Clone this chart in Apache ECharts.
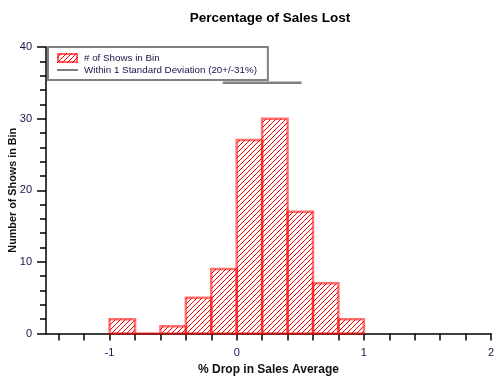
<!DOCTYPE html>
<html><head><meta charset="utf-8">
<script src="https://cdn.jsdelivr.net/npm/echarts@6/dist/echarts.min.js"></script>
<style>html,body{margin:0;padding:0;background:#fff}#c{width:500px;height:380px}</style>
</head><body><div id="c"></div>
<script>
// Data
var binStarts = [-1.0, -0.8, -0.6, -0.4, -0.2, 0.0, 0.2, 0.4, 0.6, 0.8];
var binEnds   = [-0.8, -0.6, -0.4, -0.2, 0.0, 0.2, 0.4, 0.6, 0.8, 1.0];
var binCounts = [2, 0, 1, 5, 9, 27, 30, 17, 7, 2];
var sdX = [-0.11, 0.51];
var sdY = [35, 35];
var xLabelValues = [-1, 0, 1, 2];
var xTickValues = [-1.4,-1.2,-1.0,-0.8,-0.6,-0.4,-0.2,0,0.2,0.4,0.6,0.8,1.0,1.2,1.4,1.6,1.8,2.0];
var seriesNames = ['# of Shows in Bin', 'Within 1 Standard Deviation (20+/-31%)'];

function makeHatch(w, h, border) {
  var c = document.createElement('canvas');
  c.width = w; c.height = h;
  var g = c.getContext('2d');
  g.strokeStyle = '#ff0000';
  g.lineWidth = 1;
  var s = 5;
  for (var k = -h; k < w + h; k += s) {
    g.beginPath(); g.moveTo(k, h); g.lineTo(k + h, 0); g.stroke();
  }
  if (border) {
    g.strokeStyle = 'rgba(255,0,0,0.6)';
    g.lineWidth = 2;
    g.strokeRect(1, 1, w - 2, h - 2);
  }
  return c;
}
function makeLineIcon(w, h) {
  var c = document.createElement('canvas');
  c.width = w; c.height = h;
  var g = c.getContext('2d');
  g.fillStyle = '#808080';
  g.fillRect(0, Math.round(h / 2) - 1, w, 2);
  return c;
}
var tile = makeHatch(5, 5, false);
var iconCanvas = makeHatch(21, 10, true);
var lineIcon = makeLineIcon(21, 10);

var barData = binStarts.map(function (s, i) { return [s, binEnds[i], binCounts[i]]; });
var sdData = sdX.map(function (x, i) { return [x, sdY[i]]; });

var font = 'Liberation Sans';
var navy = '#14144a';
var chart = echarts.init(document.getElementById('c'));
chart.setOption({
  animation: false,
  title: {
    text: 'Percentage of Sales Lost',
    left: 265, top: 6, textAlign: 'center',
    textStyle: { fontFamily: font, fontSize: 13.5, fontWeight: 'bold', color: '#000' }
  },
  grid: { left: 46, right: 9, top: 47, bottom: 46.5, containLabel: false, outerBoundsMode: 'none' },
  legend: {
    orient: 'vertical', left: 48, top: 47,
    padding: [6, 11, 5, 9],
    itemWidth: 21, itemHeight: 10, itemGap: 2,
    borderColor: '#808080', borderWidth: 2, borderRadius: 0,
    backgroundColor: '#fff',
    textStyle: { fontFamily: font, fontSize: 9.8, color: navy, padding: [0, 0, 0, 1] },
    data: [
      { name: seriesNames[0], icon: 'image://' + iconCanvas.toDataURL() },
      { name: seriesNames[1], icon: 'image://' + lineIcon.toDataURL() }
    ]
  },
  xAxis: {
    type: 'value', min: -1.5, max: 2,
    name: '% Drop in Sales Average', nameLocation: 'middle', nameGap: 28,
    nameTextStyle: { fontFamily: font, fontSize: 12, fontWeight: 'bold', color: '#111' },
    axisLine: { show: true, onZero: false, lineStyle: { color: '#000', width: 1.5 } },
    axisTick: { show: true, length: 7, customValues: xTickValues, lineStyle: { color: '#000', width: 1.5 } },
    axisLabel: { customValues: xLabelValues, fontFamily: font, fontSize: 11, color: navy, margin: 14 },
    splitLine: { show: false }
  },
  yAxis: {
    type: 'value', min: 0, max: 40, interval: 10,
    name: 'Number of Shows in Bin', nameLocation: 'middle', nameGap: 27, nameRotate: 90,
    nameMoveOverlap: false,
    nameTextStyle: { fontFamily: font, fontSize: 10.8, fontWeight: 'bold', color: '#111' },
    axisLine: { show: true, onZero: false, lineStyle: { color: '#000', width: 1.5 } },
    axisTick: { show: true, length: 9, lineStyle: { color: '#000', width: 1.5 } },
    minorTick: { show: true, splitNumber: 5, length: 6, lineStyle: { color: '#000', width: 1.5 } },
    axisLabel: { fontFamily: font, fontSize: 11, color: navy, margin: 14 },
    splitLine: { show: false }, minorSplitLine: { show: false }
  },
  series: [
    {
      name: seriesNames[0], type: 'custom', data: barData,
      encode: { x: [0, 1], y: 2 },
      itemStyle: { color: '#ff8080' },
      renderItem: function (params, api) {
        var p0 = api.coord([api.value(0), 0]);
        var p1 = api.coord([api.value(1), api.value(2)]);
        return {
          type: 'rect',
          shape: { x: p0[0], y: p1[1], width: p1[0] - p0[0], height: p0[1] - p1[1] },
          style: {
            fill: { image: tile, repeat: 'repeat' },
            stroke: 'rgba(255,0,0,0.55)', lineWidth: 2.5
          }
        };
      }
    },
    {
      name: seriesNames[1], type: 'line', data: sdData,
      symbol: 'none', lineStyle: { color: '#808080', width: 2.5 },
      itemStyle: { color: '#808080' }
    }
  ]
});
</script></body></html>
